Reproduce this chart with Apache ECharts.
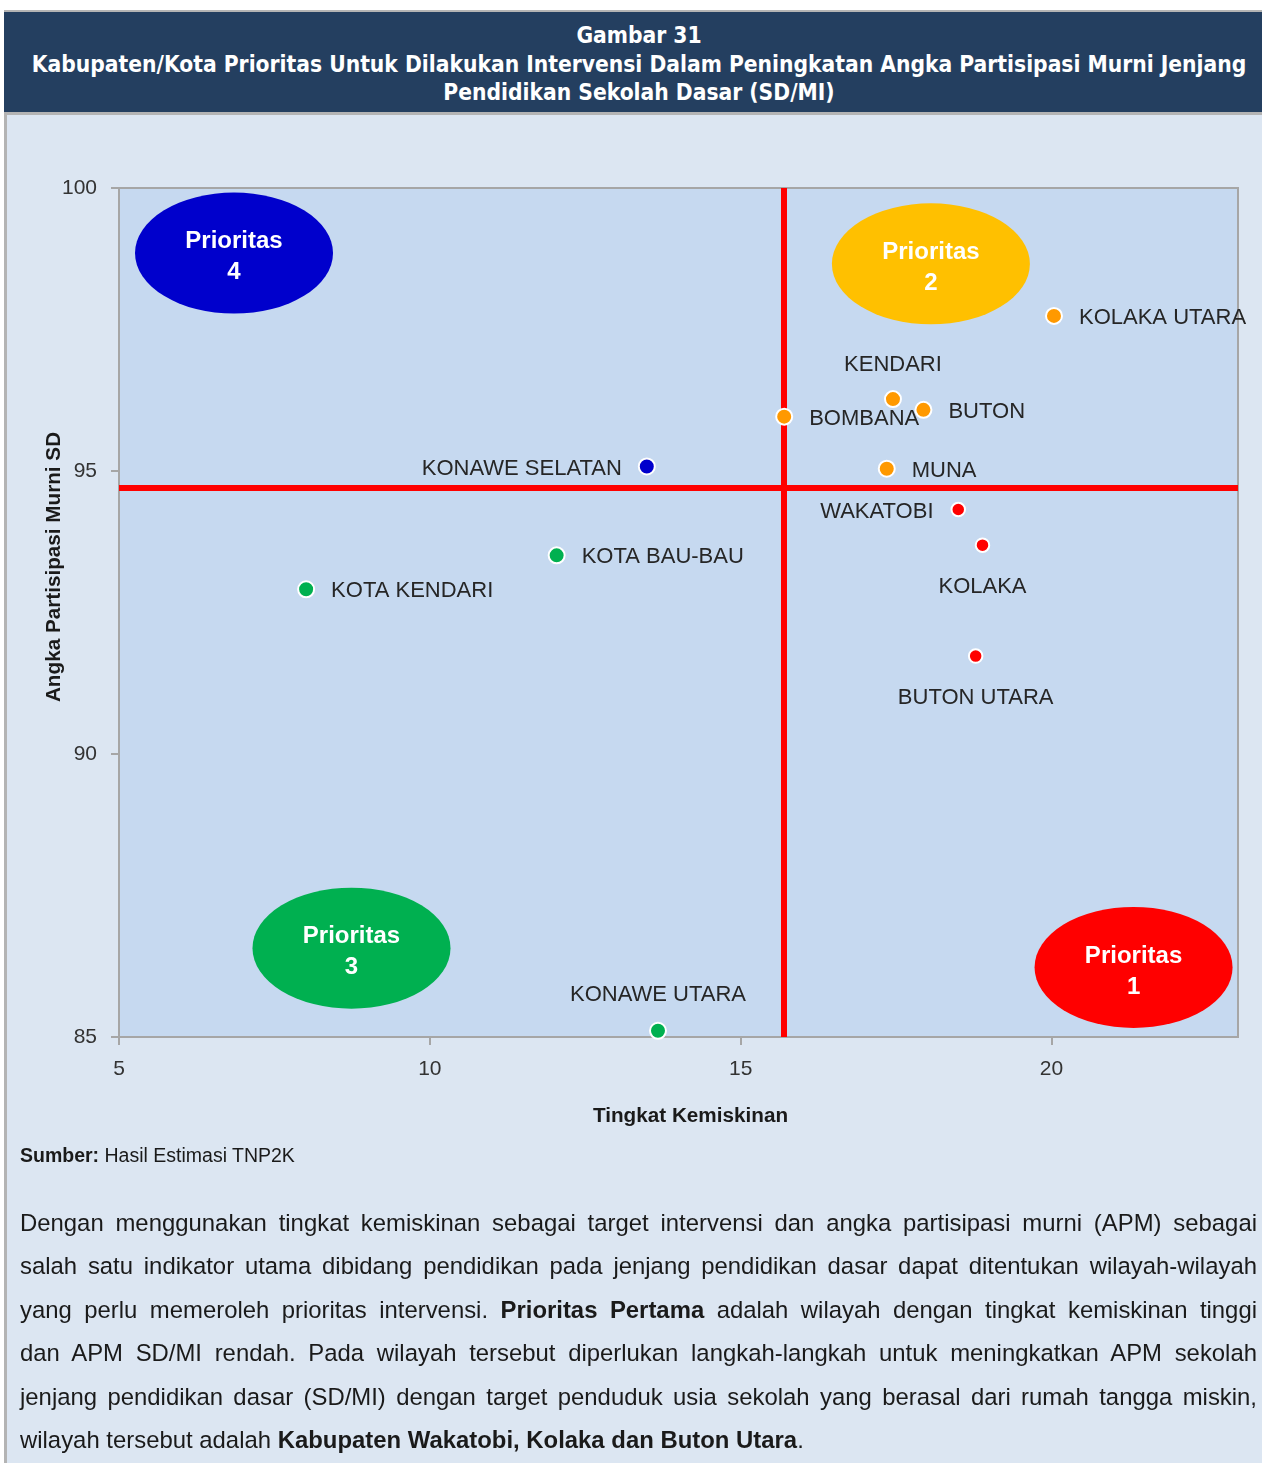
<!DOCTYPE html>
<html>
<head>
<meta charset="utf-8">
<title>Gambar 31</title>
<script src="https://cdn.jsdelivr.net/npm/echarts@6/dist/echarts.min.js"></script>
<style>
  html, body { margin: 0; padding: 0; background: #ffffff; }
  body { width: 1262px; height: 1463px; position: relative; overflow: hidden; }
  #frame { position: absolute; left: 4px; top: 10px; width: 1255px; height: 1453px;
           border-left: 3px solid #b4b4b4; background: #dce6f2; }
  #head { position: absolute; left: 4px; top: 10px; width: 1246px; height: 91px;
          padding: 9px 0 0 12px; border-top: 2px solid #b4b4b4; border-bottom: 3px solid #b4b4b4;
          background: #243f60; color: #ffffff; text-align: center;
          font-family: "DejaVu Sans Condensed", "DejaVu Sans", sans-serif; font-weight: bold;
          font-size: 22.6px; line-height: 28.5px; white-space: nowrap; }
  #chart { position: absolute; left: 0; top: 0; width: 1262px; height: 1463px; }
  #source { position: absolute; left: 20px; top: 1143px; font-family: "Liberation Sans", Arial, sans-serif;
            font-size: 19.5px; line-height: 24px; color: #1a1a1a; }
  #body { position: absolute; left: 20px; top: 1201px; width: 1237px;
          font-family: "Liberation Sans", Arial, sans-serif; font-size: 23.9px; line-height: 43.4px; color: #1a1a1a; }
  #body .ln { text-align: justify; text-align-last: justify; white-space: nowrap; }
  #body .ln.last { text-align: left; text-align-last: left; }
</style>
</head>
<body>
<div id="frame"></div>
<div id="head">
  <div>Gambar 31</div>
  <div>Kabupaten/Kota Prioritas Untuk Dilakukan Intervensi Dalam Peningkatan Angka Partisipasi Murni Jenjang</div>
  <div>Pendidikan Sekolah Dasar (SD/MI)</div>
</div>
<div id="chart"></div>
<div id="source"><b>Sumber:</b> Hasil Estimasi TNP2K</div>
<div id="body">
  <div class="ln">Dengan menggunakan tingkat kemiskinan sebagai target intervensi dan angka partisipasi murni (APM) sebagai</div>
  <div class="ln">salah satu indikator utama dibidang pendidikan pada jenjang pendidikan dasar dapat ditentukan wilayah-wilayah</div>
  <div class="ln">yang perlu memeroleh prioritas intervensi. <b>Prioritas Pertama</b> adalah wilayah dengan tingkat kemiskinan tinggi</div>
  <div class="ln">dan APM SD/MI rendah. Pada wilayah tersebut diperlukan langkah-langkah untuk meningkatkan APM sekolah</div>
  <div class="ln">jenjang pendidikan dasar (SD/MI) dengan target penduduk usia sekolah yang berasal dari rumah tangga miskin,</div>
  <div class="ln last">wilayah tersebut adalah <b>Kabupaten Wakatobi, Kolaka dan Buton Utara</b>.</div>
</div>
<script>
// Tingkat kemiskinan (x) and APM SD (y) per kabupaten/kota, grouped by priority quadrant
const p1Names   = ['WAKATOBI', 'KOLAKA', 'BUTON UTARA'];
const p1Poverty = [18.50, 18.89, 18.78];
const p1APM     = [94.32, 93.69, 91.73];

const p2Names   = ['KOLAKA UTARA', 'KENDARI', 'BUTON', 'BOMBANA', 'MUNA'];
const p2Poverty = [20.04, 17.45, 17.94, 15.70, 17.35];
const p2APM     = [97.74, 96.27, 96.08, 95.96, 95.04];

const p3Names   = ['KOTA BAU-BAU', 'KOTA KENDARI', 'KONAWE UTARA'];
const p3Poverty = [12.04, 8.01, 13.67];
const p3APM     = [93.51, 92.91, 85.11];

const p4Names   = ['KONAWE SELATAN'];
const p4Poverty = [13.49];
const p4APM     = [95.08];

// Quadrant dividers (red cross-hair)
const povertyCut = 15.70;
const apmCut = 94.70;

// Priority badges placed in each quadrant
const badgeText = ['Prioritas\n1', 'Prioritas\n2', 'Prioritas\n3', 'Prioritas\n4'];
const badgeX    = [21.32, 18.06, 8.74, 6.85];
const badgeY    = [86.23, 98.66, 86.57, 98.85];

// Axis ticks
const xTicks = [5, 10, 15, 20];
const yTicks = [85, 90, 95, 100];

// Where each region name sits around its dot
const labelPlacement = {
  'WAKATOBI': ['left', 17], 'KOLAKA': ['bottom', 21], 'BUTON UTARA': ['bottom', 21],
  'KOLAKA UTARA': ['right', 16], 'KENDARI': ['top', 16], 'BUTON': ['right', 16],
  'BOMBANA': ['right', 16], 'MUNA': ['right', 16],
  'KOTA BAU-BAU': ['right', 16], 'KOTA KENDARI': ['right', 16], 'KONAWE UTARA': ['top', 18],
  'KONAWE SELATAN': ['left', 16]
};

const colors = { p1: '#ff0000', p2: '#ff9900', p3: '#00b050', p4: '#0000cc' };
const badgeColors = ['#ff0000', '#ffc000', '#00b050', '#0000cc'];

function points(names, xs, ys) {
  return names.map((n, i) => ({
    name: n,
    value: [xs[i], ys[i]],
    label: { position: labelPlacement[n][0], distance: labelPlacement[n][1] }
  }));
}

const labelFont = { show: true, formatter: '{b}', color: '#262626', fontSize: 22, offset: [0, 2],
                    fontFamily: '"Liberation Sans", Arial, sans-serif' };

function dotSeries(name, data, color, size) {
  return {
    name: name, type: 'scatter', z: 5, data: data, symbolSize: size,
    itemStyle: { color: color, borderColor: '#ffffff', borderWidth: 2, opacity: 1 },
    label: labelFont, emphasis: { disabled: true }
  };
}

const chart = echarts.init(document.getElementById('chart'), null, { renderer: 'canvas' });

chart.setOption({
  animation: false,
  grid: { left: 119, right: 24, top: 188, bottom: 426, show: true,
          backgroundColor: '#c6d9f0', borderColor: '#a6a6a6', borderWidth: 2 },
  xAxis: {
    type: 'value', min: 5, max: 23, interval: 5,
    name: 'Tingkat Kemiskinan', nameLocation: 'middle', nameGap: 69,
    nameTextStyle: { fontSize: 20.7, fontWeight: 'bold', color: '#1a1a1a', padding: [0, 0, 0, 24],
                     fontFamily: '"Liberation Sans", Arial, sans-serif' },
    axisLine: { show: true, lineStyle: { color: '#a6a6a6', width: 2 } },
    axisTick: { show: true, length: 8, customValues: xTicks, lineStyle: { color: '#a6a6a6', width: 2 } },
    axisLabel: { customValues: xTicks, margin: 22, fontSize: 21, color: '#333333',
                 fontFamily: '"Liberation Sans", Arial, sans-serif' },
    splitLine: { show: false }
  },
  yAxis: {
    type: 'value', min: 85, max: 100, interval: 5,
    axisLine: { show: true, lineStyle: { color: '#a6a6a6', width: 2 } },
    axisTick: { show: true, length: 8, customValues: yTicks, lineStyle: { color: '#a6a6a6', width: 2 } },
    axisLabel: { customValues: yTicks, margin: 22, fontSize: 21, color: '#333333',
                 fontFamily: '"Liberation Sans", Arial, sans-serif' },
    splitLine: { show: false }
  },
  graphic: [{
    type: 'text', x: 54, y: 567, rotation: Math.PI / 2,
    style: { text: 'Angka Partisipasi Murni SD', fill: '#1a1a1a', align: 'center', verticalAlign: 'middle',
             font: 'bold 20.7px "Liberation Sans", Arial, sans-serif' }
  }],
  series: [
    {
      name: 'Pembagi', type: 'scatter', data: [], z: 2, silent: true,
      markLine: {
        silent: true, symbol: ['none', 'none'], label: { show: false },
        lineStyle: { color: '#ff0000', width: 6, type: 'solid', opacity: 1 },
        data: [{ xAxis: povertyCut }, { yAxis: apmCut }]
      }
    },
    {
      name: 'Prioritas', type: 'scatter', z: 3, silent: true, clip: false,
      symbol: 'circle', symbolSize: [198, 121],
      data: badgeText.map((t, i) => ({ name: t, value: [badgeX[i], badgeY[i]],
                                       itemStyle: { color: badgeColors[i], opacity: 1 } })),
      label: { show: true, position: 'inside', formatter: '{b}', color: '#ffffff', offset: [0, 4],
               fontSize: 24, lineHeight: 31, fontWeight: 'bold',
               fontFamily: '"Liberation Sans", Arial, sans-serif' }
    },
    dotSeries('Prioritas 1', points(p1Names, p1Poverty, p1APM), colors.p1, 13.5),
    dotSeries('Prioritas 2', points(p2Names, p2Poverty, p2APM), colors.p2, 16),
    dotSeries('Prioritas 3', points(p3Names, p3Poverty, p3APM), colors.p3, 16),
    dotSeries('Prioritas 4', points(p4Names, p4Poverty, p4APM), colors.p4, 16)
  ]
});
</script>
</body>
</html>
